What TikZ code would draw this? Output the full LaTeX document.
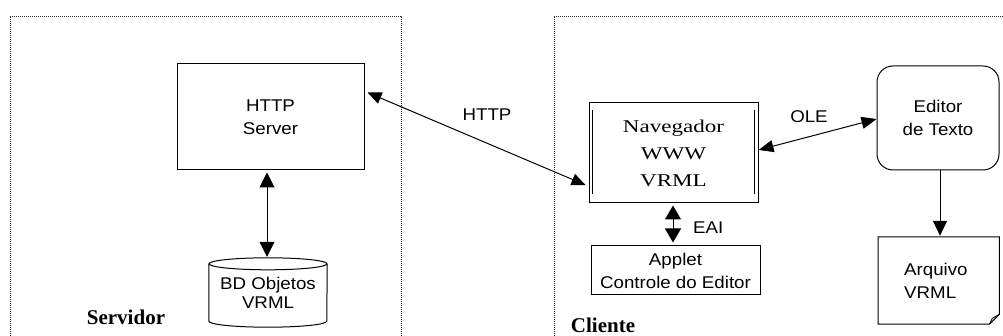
\documentclass[tikz,border=0pt]{standalone}
\usepackage{fontspec}
\setmainfont{Liberation Sans}[FakeStretch=1.1]
\newfontfamily\navfont{Liberation Serif}[FakeStretch=1.28]
\newfontfamily\regfont{Liberation Serif}
\usetikzlibrary{arrows.meta,calc}
\begin{document}
\begin{tikzpicture}[x=1pt,y=-1pt,
  every node/.style={inner sep=0pt},
  txt/.style={font=\fontsize{17}{23}\selectfont, align=center},
  navtxt/.style={font=\navfont\fontsize{18}{27}\selectfont, align=center},
  regtxt/.style={font=\regfont\bfseries\fontsize{21}{24}\selectfont},
  box/.style={draw, line width=1pt},
  region/.style={line width=0.9pt, dash pattern=on 1pt off 1pt, black!85},
  tip/.style={line width=1pt, {Triangle[length=14pt,width=12pt]}-{Triangle[length=14pt,width=12pt]}},
  tipone/.style={line width=1pt, -{Triangle[length=15pt,width=14pt]}},
  tipeai/.style={line width=1pt, {Triangle[length=14pt,width=16pt]}-{Triangle[length=14pt,width=16pt]}},
]
\useasboundingbox (0,0) rectangle (1003,336);

% regions
\draw[region] (10,340) -- (10,16) -- (401,16) -- (401,340);
\draw[region] (554,340) -- (554,16) -- (1010,16);
\node[regtxt] (servidor) at (126,317) {Servidor};
\node[regtxt] (cliente) at (603,325) {Cliente};

% server side
\node[box, txt, minimum width=187pt, minimum height=106pt] (srv) at (270.5,117) {HTTP\\Server};
\node[txt, minimum width=118pt, minimum height=69pt] (db) at (268,292.5) {\raisebox{-4pt}{BD Objetos}\\VRML};
\draw[line width=1pt] ($(db.north west)+(0,6)$) -- ($(db.south west)+(0,-6)$)
   arc[start angle=180, end angle=360, x radius=59pt, y radius=6pt]
   -- ($(db.north east)+(0,6)$);
\draw[line width=1pt] ($(db.north)+(0,6)$) ellipse [x radius=59pt, y radius=6pt];

% client side
\node[box, navtxt, minimum width=169pt, minimum height=100pt] (nav) at (673.5,153) {Navegador\\WWW\\VRML};
\draw[line width=1pt] ($(nav.north west)+(4,8)$) -- ($(nav.south west)+(4,-9)$);
\draw[line width=1pt] ($(nav.north east)+(-4,8)$) -- ($(nav.south east)+(-4,-9)$);
\node[box, txt, minimum width=169pt, minimum height=49pt] (app) at (675.5,270.5) {Applet\\Controle do Editor};
\node[box, txt, rounded corners=16pt, minimum width=122pt, minimum height=104pt] (ed) at (938,118) {Editor\\de Texto};
\node[txt, align=left, text width=121pt, minimum height=87pt, anchor=west] (arq) at (878,280.5) {\hspace*{26pt}Arquivo\\\hspace*{26pt}VRML};
\draw[line width=1pt] (arq.north west) -- (arq.north east) -- ($(arq.south east)+(0,-10)$)
   -- ($(arq.south east)+(-10,0)$) -- (arq.south west) -- cycle;
\draw[line width=0.8pt] ($(arq.south east)+(0,-10)$) -- ($(arq.south east)+(-7,-6)$) -- ($(arq.south east)+(-10,0)$);

% connectors
\coordinate (h1) at ($(srv.north east)+(3,29)$);
\coordinate (h2) at ($(nav.west)+(-3,32)$);
\draw[tip] (h1) -- (h2);
\node[txt] (lhttp) at (487,115) {HTTP};

\coordinate (dbtop) at ($(db.north)+(-1,-1)$);
\draw[tip, {Triangle[length=15pt,width=15pt]}-{Triangle[length=15pt,width=15pt]}] ($(srv.south -| dbtop)+(0,2)$) -- (dbtop);

\coordinate (e1) at ($(nav.south)+(-0.5,2)$);
\coordinate (e2) at ($(app.north)+(-2.5,-3)$);
\draw[tipeai] (e1) -- (e2);
\node[txt, anchor=west] (leai) at (693,228) {EAI};

\coordinate (o1) at ($(nav.east)+(0,-3)$);
\coordinate (o2) at ($(ed.west)+(0,1)$);
\draw[tip, {Triangle[length=15pt,width=12pt]}-{Triangle[length=15pt,width=12pt]}] (o1) -- (o2);
\node[txt] (lole) at (809,117) {OLE};

\coordinate (a1) at ($(ed.south)+(2,0)$);
\draw[tipone] (a1) -- ($(a1 |- arq.north)+(0,-1)$);
\end{tikzpicture}
\end{document}
